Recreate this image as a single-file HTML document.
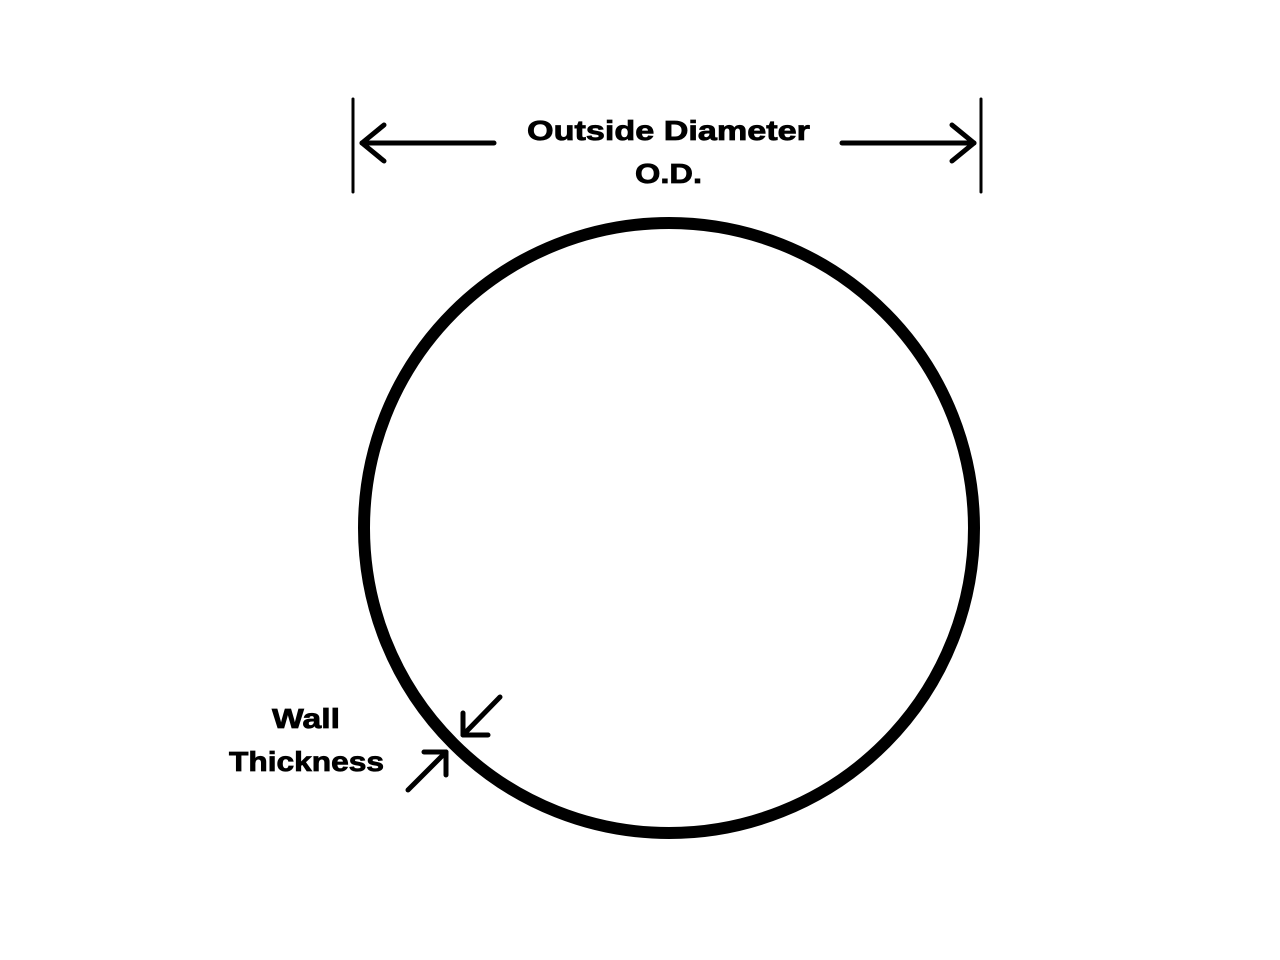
<!DOCTYPE html>
<html><head><style>body{margin:0;background:#fff}</style></head><body>
<svg width="1280" height="960" xmlns="http://www.w3.org/2000/svg" style="display:block">
<rect width="1280" height="960" fill="#fff"/>
<g stroke="#000" fill="none" stroke-linecap="round" stroke-linejoin="round">
<circle cx="669" cy="528" r="305" stroke-width="12"/>
<line x1="353" y1="99" x2="353" y2="192" stroke-width="3"/>
<line x1="981" y1="99" x2="981" y2="192" stroke-width="3"/>
<line x1="362" y1="143" x2="494" y2="143" stroke-width="5"/>
<polyline points="384,125 362,143 384,161" stroke-width="5"/>
<line x1="842" y1="143" x2="974" y2="143" stroke-width="5"/>
<polyline points="952,125 974,143 952,161" stroke-width="5"/>
<line x1="500" y1="697" x2="463" y2="735" stroke-width="5"/>
<polyline points="463,713 463,735 488,735" stroke-width="5"/>
<line x1="408" y1="790" x2="446" y2="752" stroke-width="5"/>
<polyline points="424,752 446,752 446,775" stroke-width="5"/>
</g>
<g font-family="Liberation Sans, sans-serif" font-weight="bold" font-size="28" fill="#000" stroke="#000" stroke-width="0.8">
<text x="527" y="140" textLength="283" lengthAdjust="spacingAndGlyphs">Outside Diameter</text>
<text x="635" y="183" textLength="67" lengthAdjust="spacingAndGlyphs">O.D.</text>
<text x="272" y="728" textLength="68" lengthAdjust="spacingAndGlyphs">Wall</text>
<text x="229" y="771" textLength="155" lengthAdjust="spacingAndGlyphs">Thickness</text>
</g>
</svg>
</body></html>
